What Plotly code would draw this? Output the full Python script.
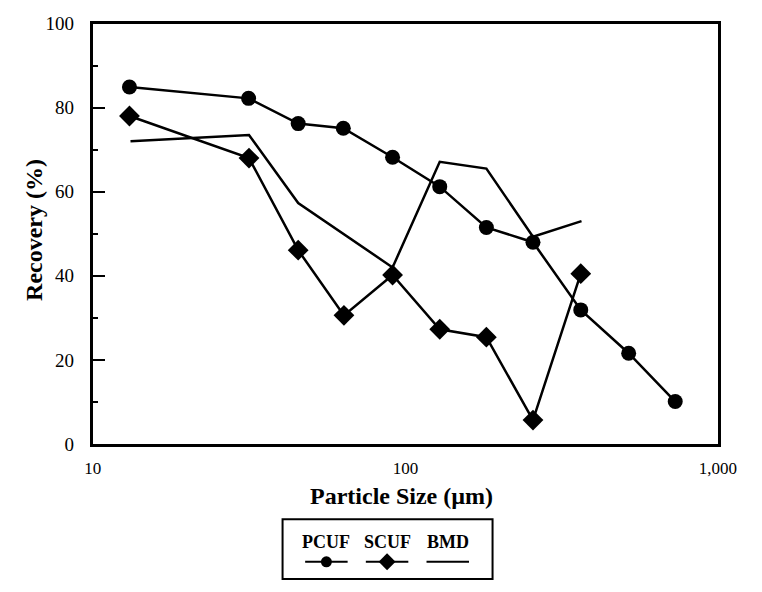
import plotly.graph_objects as go

# Particle size classes (µm) and recovery (%) for each separator
pcuf_size = [13.1, 31.5, 45.4, 63.3, 91.0, 128.8, 181.6, 256.0, 364.0, 518.0, 730.0]
pcuf_recovery = [84.9, 82.2, 76.2, 75.1, 68.2, 61.2, 51.5, 48.0, 31.9, 21.6, 10.1]

scuf_size = [13.1, 31.6, 45.4, 63.6, 91.0, 128.8, 181.6, 256.0, 364.0]
scuf_recovery = [78.0, 68.0, 46.1, 30.6, 40.2, 27.3, 25.4, 5.7, 40.5]

bmd_size = [13.2, 31.6, 45.4, 91.0, 128.8, 181.6, 256.0, 366.0]
bmd_recovery = [72.0, 73.5, 57.3, 42.0, 67.1, 65.5, 49.3, 53.0]

x_tick_vals = [10, 100, 1000]
x_tick_text = ["10", "100", "1,000"]
y_tick_vals = [0, 20, 40, 60, 80, 100]

series_names = ["PCUF", "SCUF", "BMD"]

W, H = 762, 592
FONT = "Liberation Serif"
INK = "black"

# plot frame in pixels
L, R, T, B = 87, 736, 14, 450


def px_x(p):
    return p / W


def px_y(p):
    return (H - p) / H


fig = go.Figure()

fig.add_trace(go.Scatter(
    x=pcuf_size, y=pcuf_recovery, mode="lines+markers", name="PCUF",
    line=dict(color=INK, width=2.5),
    marker=dict(symbol="circle", size=15, color=INK),
    showlegend=False,
))
fig.add_trace(go.Scatter(
    x=scuf_size, y=scuf_recovery, mode="lines+markers", name="SCUF",
    line=dict(color=INK, width=2.5),
    marker=dict(symbol="diamond", size=16, color=INK),
    showlegend=False,
))
fig.add_trace(go.Scatter(
    x=bmd_size, y=bmd_recovery, mode="lines", name="BMD",
    line=dict(color=INK, width=2.5),
    showlegend=False,
))

# Legend key drawn on its own small axes below the plot
key_symbols = ["circle", "diamond", None]
key_sizes = [11, 13, 0]
for i, (name, sym, sz) in enumerate(zip(series_names, key_symbols, key_sizes)):
    fig.add_trace(go.Scatter(
        x=[i + 0.15, i + 0.85], y=[0.30, 0.30], mode="lines",
        line=dict(color=INK, width=2), xaxis="x2", yaxis="y2",
        showlegend=False, hoverinfo="skip",
    ))
    if sym:
        fig.add_trace(go.Scatter(
            x=[i + 0.5], y=[0.30], mode="markers",
            marker=dict(symbol=sym, size=sz, color=INK),
            xaxis="x2", yaxis="y2", showlegend=False, hoverinfo="skip",
        ))
    fig.add_annotation(
        x=i + 0.5, y=0.62, xref="x2", yref="y2", text=f"<b>{name}</b>",
        xanchor="center", yanchor="middle",
        showarrow=False, font=dict(family=FONT, size=18, color=INK),
    )

# legend frame
fig.add_shape(
    type="rect", xref="paper", yref="paper",
    x0=px_x(284), x1=px_x(502), y0=px_y(590), y1=px_y(528),
    line=dict(color=INK, width=2),
)

# axis titles
fig.add_annotation(
    x=px_x(26), y=px_y(228), xref="paper", yref="paper",
    xanchor="center", yanchor="middle",
    text="<b>Recovery (%)</b>", textangle=-90, showarrow=False,
    font=dict(family=FONT, size=24, color=INK),
)
fig.add_annotation(
    x=px_x(407), y=px_y(504), xref="paper", yref="paper",
    xanchor="center", yanchor="middle",
    text="<b>Particle Size (µm)</b>", showarrow=False,
    font=dict(family=FONT, size=24, color=INK),
)

fig.update_layout(
    width=W, height=H,
    margin=dict(l=0, r=0, t=0, b=0),
    paper_bgcolor="white", plot_bgcolor="white",
    font=dict(family=FONT, color=INK, size=17),
    xaxis=dict(
        type="log", range=[1, 3], domain=[px_x(L), px_x(R)],
        showline=True, linewidth=3, linecolor=INK, mirror=True,
        showgrid=False, zeroline=False,
        tickvals=x_tick_vals, ticktext=x_tick_text, ticks="",
        ticklabelstandoff=7,
        tickfont=dict(family=FONT, size=17, color=INK),
    ),
    yaxis=dict(
        range=[0, 100], domain=[px_y(B), px_y(T)],
        showline=True, linewidth=3, linecolor=INK, mirror=True,
        showgrid=False, zeroline=False,
        tickvals=y_tick_vals, ticks="inside", ticklen=12, tickwidth=2,
        tickcolor=INK, ticklabelstandoff=12,
        minor=dict(tickvals=[10, 30, 50, 70, 90], ticks="inside",
                   ticklen=5, tickwidth=1.5, tickcolor=INK),
        tickfont=dict(family=FONT, size=19, color=INK),
    ),
    xaxis2=dict(
        domain=[px_x(298), px_x(487)], range=[0, 3], anchor="y2",
        visible=False, fixedrange=True,
    ),
    yaxis2=dict(
        domain=[px_y(591), px_y(528)], range=[0, 1], anchor="x2",
        visible=False, fixedrange=True,
    ),
)

fig.write_html("out.html")
